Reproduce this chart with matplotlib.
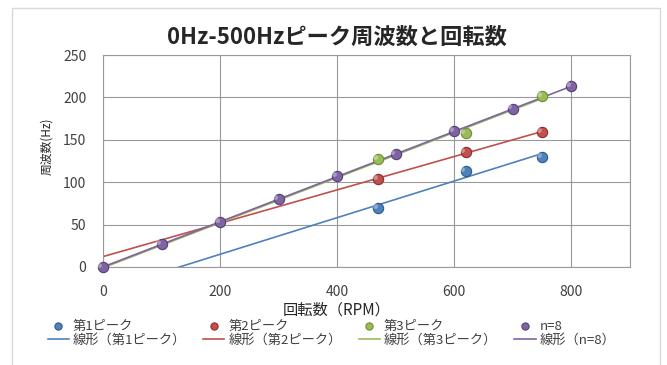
import matplotlib
matplotlib.use("Agg")
import matplotlib.pyplot as plt
from matplotlib.patches import Rectangle
import numpy as np

plt.rcParams['font.family'] = ['Noto Sans CJK JP', 'DejaVu Sans']

# 各ピークの回転数と周波数
rpm_peak = [470, 620, 750]
peak1 = [70, 113, 130]
peak2 = [104, 136, 159]
peak3 = [127, 158, 202]

# n=8 の理論線
rpm_n8 = [0, 100, 200, 300, 400, 500, 600, 700, 800]
freq_n8 = [0, 27, 53, 80, 107, 133, 160, 187, 213]

series_names = ['第1ピーク', '第2ピーク', '第3ピーク', 'n=8']
colors = ['#4F81BD', '#C0504D', '#9BBB59', '#8064A2']
edge_colors = ['#2C5A8C', '#8C2D2A', '#6E8C35', '#54407A']

x_ticks = [0, 200, 400, 600, 800]
y_ticks = [0, 50, 100, 150, 200, 250]

fig = plt.figure(figsize=(6.67, 3.65), dpi=100)
ax = fig.add_axes([0.1544, 0.2685, 0.79, 0.5805])

# グラフエリアの枠
fig.patches.append(Rectangle((12 / 667, -0.01), 648 / 667, 1 - 8 / 365 + 0.01,
                             transform=fig.transFigure, fill=False,
                             edgecolor='#D9D9D9', linewidth=1.0))

data = [(rpm_peak, peak1), (rpm_peak, peak2), (rpm_peak, peak3), (rpm_n8, freq_n8)]

handles = []
labels = []
for (xs, ys), name, c, ec in zip(data, series_names, colors, edge_colors):
    xs = np.array(xs, dtype=float)
    ys = np.array(ys, dtype=float)
    # 近似直線（線形）
    slope, icpt = np.polyfit(xs, ys, 1)
    xl = np.array([0, xs.max()])
    ln, = ax.plot(xl, slope * xl + icpt, color=c, lw=1.2, zorder=2)
    sc = ax.scatter(xs, ys, s=55, color=c, edgecolors=ec, linewidths=0.8,
                    zorder=3, clip_on=False)
    # 球状の光沢
    ax.scatter(xs - 6, ys + 2.5, s=12, color='white', alpha=0.35,
               linewidths=0, zorder=4, clip_on=False)
    handles += [sc, ln]
    labels += [name, f'線形（{name}）']

ax.set_xlim(0, 900)
ax.set_ylim(0, 250)
ax.set_xticks(x_ticks)
ax.set_yticks(y_ticks)
ax.grid(True, color='#999999', linewidth=0.8)
ax.axvline(900, color='#999999', linewidth=0.8)
ax.set_axisbelow(True)
for sp in ax.spines.values():
    sp.set_color('#999999')
    sp.set_linewidth(0.8)
ax.tick_params(length=0, labelsize=10, colors='#404040')
ax.tick_params(axis='x', pad=13)
ax.tick_params(axis='y', pad=12)

fig.text(0.505, 0.899, '0Hz-500Hzピーク周波数と回転数', ha='center', va='center',
         fontsize=16, fontweight='bold', color='#262626')
fig.text(0.505, 1 - 310 / 365, '回転数（RPM）', ha='center', va='center',
         fontsize=11, color='#262626')
fig.text(47 / 667, 1 - 146 / 365, '周波数(Hz)', ha='center', va='center',
         rotation=90, fontsize=8.5, color='#262626')

leg = fig.legend(handles, labels, ncol=4, loc='center', bbox_to_anchor=(0.497, 1 - 333 / 365),
                 frameon=False, fontsize=9.5, handlelength=1.6, handletextpad=0.3,
                 columnspacing=1.3, labelspacing=0.05, markerscale=0.7)
for t in leg.get_texts():
    t.set_color('#404040')

fig.savefig('out.png', dpi=100)
